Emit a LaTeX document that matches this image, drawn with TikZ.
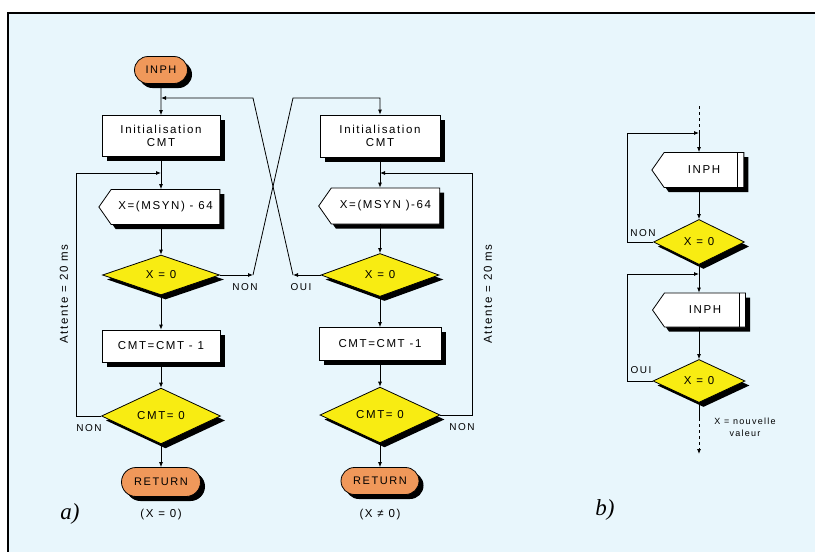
\documentclass[tikz,border=0pt]{standalone}
\usepackage{fontspec}
\setmainfont{Liberation Sans}[LetterSpace=14]
\newfontfamily\tagfont{Liberation Serif}
\usetikzlibrary{arrows.meta,positioning,calc,shapes.geometric,shapes.misc,shapes.symbols,shadows}
\definecolor{paleblue}{RGB}{232,246,252}
\definecolor{termorange}{RGB}{240,152,90}
\definecolor{testyellow}{RGB}{248,236,18}

\begin{document}
\begin{tikzpicture}[x=1pt, y=-1pt, font=\fontsize{11.5}{13.5}\selectfont,
      >={Latex[length=5pt,width=4pt]},
      flow/.style={line width=0.8pt},
      shd/.style={drop shadow={fill=black, opacity=1, shadow xshift=4.5pt,
                  shadow yshift=-4.5pt}},
      term/.style={rounded rectangle, draw, line width=0.8pt, fill=termorange,
                   shd, inner sep=0pt, font=\fontsize{11}{13}\selectfont},
      proc/.style={rectangle, draw, line width=0.8pt, fill=white, shd,
                   inner sep=0pt, align=center},
      inbox/.style={signal, signal to=west, signal pointer angle=110, draw,
                    line width=0.8pt, fill=white, shd, inner sep=0pt},
      ifbox/.style={diamond, draw, line width=0.8pt, fill=testyellow, shd,
                    inner sep=0pt},
      lbl/.style={font=\fontsize{10}{12}\selectfont},
      tag/.style={font=\tagfont\itshape\fontsize{23}{25}\selectfont}]
      \useasboundingbox (0,0) rectangle (815,552);
      % background and frame
      \fill[white] (0,0) rectangle (815,552);
      \fill[paleblue] (8,13) rectangle (815,552);
      \draw[line width=1.6pt] (8,552) -- (8,13) -- (815,13);

      % a) left chart
      \node[term, minimum width=53pt, minimum height=27pt] (inphL) at (161,70) {INPH};
      \node[proc, minimum width=118pt, minimum height=41pt] (initL) at (161,136) {Initialisation\\CMT};
      \node[inbox, minimum width=121pt, minimum height=35pt] (msynL) at (165.5,207) {X=(MSYN) - 64};
      \node[ifbox, minimum width=117pt, minimum height=40pt] (xzL) at (161,275) {X = 0};
      \node[proc, minimum width=118pt, minimum height=32pt] (cmtL) at (161,346) {CMT=CMT - 1};
      \node[ifbox, minimum width=119pt, minimum height=42pt] (czL) at (161,416) {CMT= 0};
      \node[term, minimum width=79pt, minimum height=29pt] (retL) at (161,482) {RETURN};
      \node (resL) at (161,515) {(X = 0)};
      \node[tag] (tagA) at (70,514) {a)};

      % a) right chart
      \node[proc, minimum width=120pt, minimum height=42pt] (initR) at (380,136) {Initialisation\\CMT};
      \node[inbox, minimum width=121pt, minimum height=36pt] (msynR) at (385.5,206) {X=(MSYN )-64};
      \node[ifbox, minimum width=118pt, minimum height=43pt] (xzR) at (380,275) {X = 0};
      \node[proc, minimum width=122pt, minimum height=33pt] (cmtR) at (380,344) {CMT=CMT -1};
      \node[ifbox, minimum width=120pt, minimum height=44pt] (czR) at (380,415) {CMT= 0};
      \node[term, minimum width=78pt, minimum height=27pt] (retR) at (380,481) {RETURN};
      \node (resR) at (380,515) {(X ≠ 0)};

      % joints of the a) charts
      \coordinate (topL) at (161,98);
      \coordinate (loopL) at (161,173);
      \coordinate (cornL) at (76,173);
      \coordinate (loopR) at (380,173);
      \coordinate (cornR) at (472,173);
      \coordinate (nonL) at (253,275);
      \coordinate (crossL) at (253,98);
      \coordinate (ouiR) at (293,275);
      \coordinate (crossR) at (293,98);

      \draw[flow,->] (inphL) -- (initL);
      \foreach \s in {L,R}{
        \draw[flow,->] (init\s) -- (init\s |- msyn\s.north);
        \draw[flow,->] (msyn\s.south -| xz\s) -- (xz\s);
        \draw[flow,->] (xz\s) -- (cmt\s);
        \draw[flow,->] (cmt\s) -- (cz\s);
        \draw[flow,->] (cz\s) -- (ret\s);
      }
      % crossing branches
      \draw[flow,->] (xzL) -- (nonL);
      \draw[flow,->] (nonL) -- (crossR) -| (initR);
      \draw[flow,->] (xzR) -- (ouiR);
      \draw[flow,->] (ouiR) -- (crossL) -- (topL);
      % waiting loops
      \draw[flow,->] (czL.west) -| (cornL) -- (loopL);
      \draw[flow,->] (czR.east) -| (cornR) -- (loopR);

      \node[lbl] (nonA) at (245,287) {NON};
      \node[lbl] (ouiA) at (301,287) {OUI};
      \node[lbl] (nonB) at (89,428) {NON};
      \node[lbl] (nonC) at (462,427) {NON};
      \node[rotate=90] (waitL) at (64,294) {Attente = 20 ms};
      \node[rotate=90] (waitR) at (488,294) {Attente = 20 ms};

      % b) chart
      \coordinate (startB) at (699,106);
      \coordinate (loopB1) at (699,133);
      \coordinate (cornB1) at (627,133);
      \node[inbox, minimum width=92pt, minimum height=35pt] (in1) at (704,170) {INPH};
      \node[ifbox, minimum width=91pt, minimum height=45pt] (dz1) at (699,242) {X = 0};
      \coordinate (loopB2) at (699,274);
      \coordinate (cornB2) at (627,274);
      \node[inbox, minimum width=93pt, minimum height=34pt] (in2) at (705,310) {INPH};
      \node[ifbox, minimum width=92pt, minimum height=43pt] (dz2) at (699,381) {X = 0};
      \coordinate (endB1) at (699,418);
      \coordinate (endB2) at (699,454);
      \draw[flow] ([xshift=-7pt]in1.north east) -- ([xshift=-7pt]in1.south east);
      \draw[flow] ([xshift=-7pt]in2.north east) -- ([xshift=-7pt]in2.south east);

      \draw[flow,dashed] (startB) -- (loopB1);
      \draw[flow,->] (loopB1) -- (loopB1 |- in1.north);
      \draw[flow,->] (in1.south -| dz1) -- (dz1);
      \draw[flow,->] (dz1) -- (dz1 |- in2.north);
      \draw[flow,->] (in2.south -| dz2) -- (dz2);
      \draw[flow] (dz2) -- (endB1);
      \draw[flow,dashed,->] (endB1) -- (endB2);
      \draw[flow,->] (dz1.west) -| (cornB1) -- (loopB1);
      \draw[flow,->] (dz2.west) -| (cornB2) -- (loopB2);

      \node[lbl] (nonD) at (643,233) {NON};
      \node[lbl] (ouiD) at (641,370) {OUI};
      \node[lbl, align=center, font=\fontsize{9}{12}\selectfont] (newval) at (745,427) {X = nouvelle\\valeur};
      \node[tag] (tagB) at (605,510) {b)};
    \end{tikzpicture}
\end{document}
